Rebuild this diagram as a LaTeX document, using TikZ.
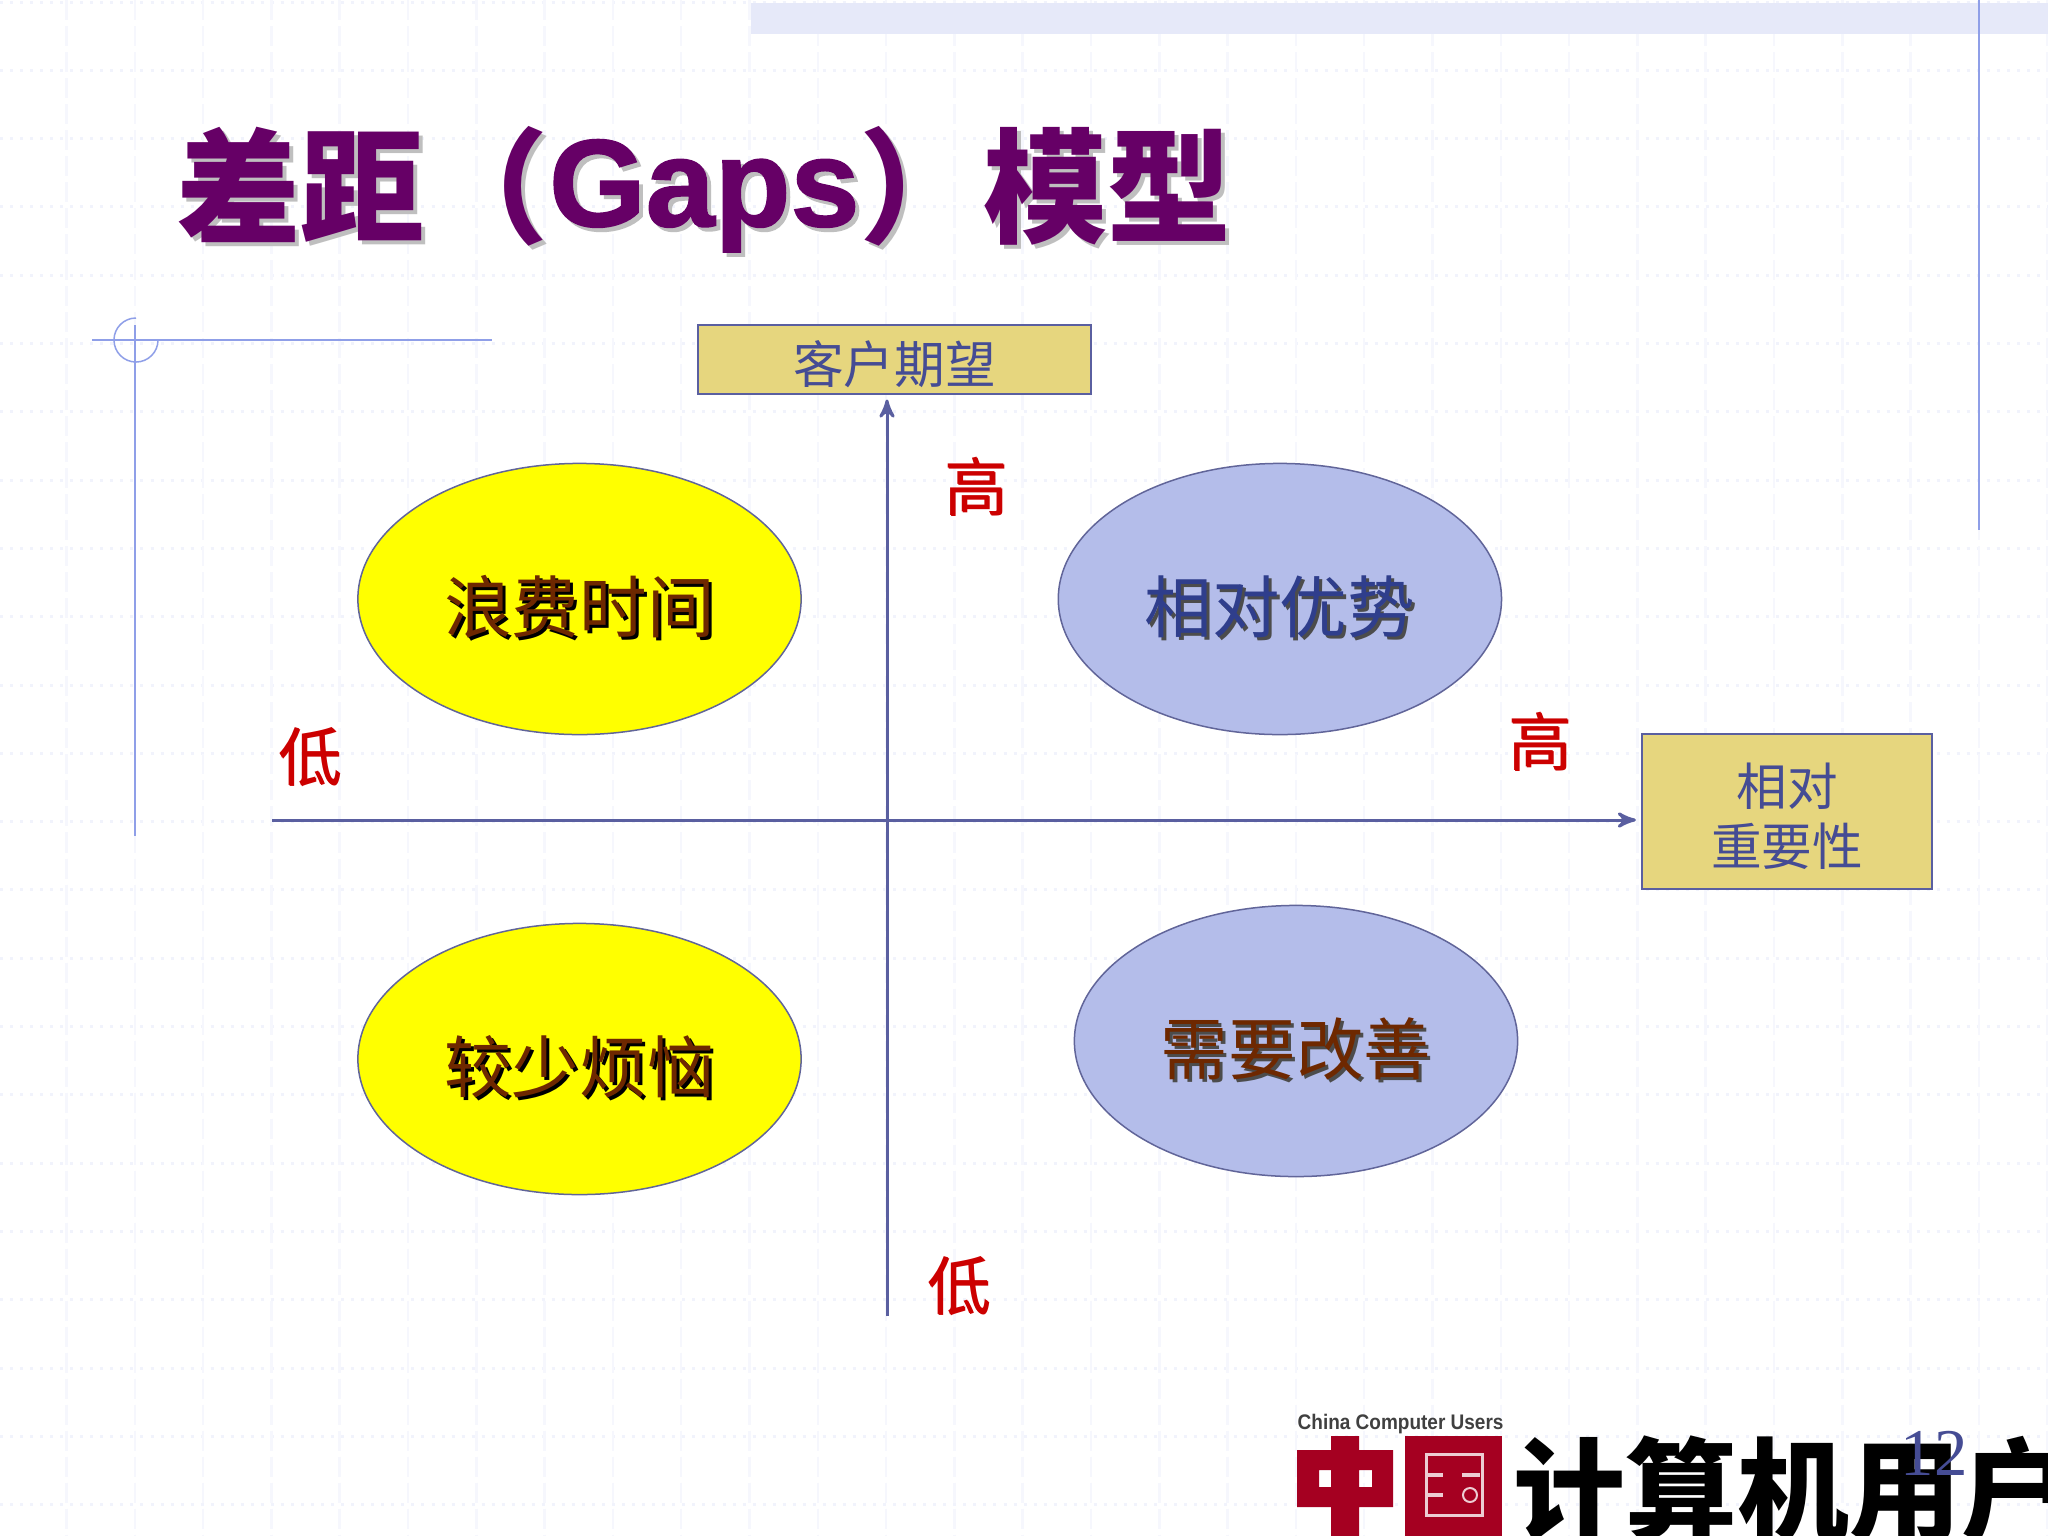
\documentclass[tikz,border=0pt]{standalone}
\usepackage{fontspec}
\setmainfont{Noto Sans CJK SC}
\newfontfamily\latinfont[BoldFeatures={FakeBold=1.3}]{Liberation Sans}
\newfontfamily\logofont{Liberation Sans}
\newfontfamily\numfont{Liberation Serif}
\usetikzlibrary{arrows,shapes.geometric}

\definecolor{gridc}{HTML}{F1F3FC}
\definecolor{gridvc}{HTML}{F6F7FD}
\definecolor{bandc}{HTML}{E6E9F9}
\definecolor{rulec}{HTML}{8F9FE8}
\definecolor{axisc}{HTML}{5A5FA0}
\definecolor{boxc}{HTML}{E6D67E}
\definecolor{ovalc}{HTML}{B4BDEA}
\definecolor{ovaly}{HTML}{FFFF00}
\definecolor{titlec}{HTML}{660066}
\definecolor{maroonc}{HTML}{6E2800}
\definecolor{navyc}{HTML}{2F3E8C}
\definecolor{boxtextc}{HTML}{454C94}
\definecolor{levelc}{HTML}{CC0000}
\definecolor{logoc}{HTML}{A50021}

\newcommand{\shadowed}[3]{\leavevmode\rlap{\kern#1\raisebox{-#1}{\color{#2}#3}}#3}
\newcommand{\ovaltext}[2]{\raisebox{-.33cm}[0pt][0pt]{\shadowed{.03cm}{#1}{#2}}}
\newcommand{\leveltext}[1]{\shadowed{.015cm}{levelc}{#1}}

\tikzset{
  oval/.style={ellipse,draw=axisc!80!gray,line width=.15mm,minimum width=4.43cm,minimum height=2.71cm,inner sep=0pt,font=\fontsize{19.2}{22}\selectfont},
  yellowoval/.style={oval,fill=ovaly,text=maroonc},
  blueoval/.style={oval,fill=ovalc},
  axisbox/.style={rectangle,draw=axisc,line width=.2mm,fill=boxc,inner sep=0pt},
  boxtext/.style={text=boxtextc,inner sep=0pt,align=center,yshift=-.05cm,font=\fontsize{14.4}{17}\selectfont},
  levellabel/.style={text=levelc,inner sep=0pt,font=\fontsize{18}{20}\selectfont},
  axisline/.style={->,draw=axisc,line width=.3mm,shorten >=.5mm},
}

\begin{document}
\begin{tikzpicture}[x=.01cm,y=-.01cm,>=stealth',node distance=7cm]
\useasboundingbox (0,0) rectangle (2048,1536);
\fill[white] (0,0) rectangle (2048,1536);

\foreach \i in {0,...,22}
  \draw[gridc,line width=.3mm,dotted] (0,2+68.3*\i) -- (2048,2+68.3*\i);
\foreach \i in {0,...,29}
  \draw[gridvc,line width=.25mm,dash pattern=on 2mm off .6mm] (66.5+68.3*\i,0) -- (66.5+68.3*\i,1536);

\fill[bandc] (751,3) rectangle (2048,34);
\draw[rulec,line width=.25mm] (1979,0) -- (1979,530);
\draw[rulec,line width=.25mm] (92,340) -- (492,340);
\draw[rulec,line width=.25mm] (135,325) -- (135,836);
\draw[rulec,line width=.15mm] (136,318) arc[start angle=90,end angle=360,radius=.22cm];

\node[anchor=west,inner sep=0pt,text=titlec,font=\fontsize{35.3}{40}\selectfont\bfseries] (title) at (176,191)
  {\shadowed{.04cm}{black!25}{差距（\raisebox{.07cm}{\latinfont Gaps}）模型}};

\node[axisbox,minimum width=3.93cm,minimum height=.68cm,label={[boxtext]center:客户期望}] (expect) at (894.5,359.5) {};
\node[axisbox,minimum width=2.9cm,minimum height=1.55cm,label={[boxtext]center:相对\\重要性}] (weight) at (1787,811.5) {};

\node[yellowoval] (waste) at (579.5,599) {\ovaltext{black}{浪费时间}};
\node[blueoval,text=navyc] (edge)[right of=waste] {\ovaltext{black!70}{相对优势}};
\node[yellowoval] (worry) at (579.5,1059) {\ovaltext{black}{较少烦恼}};
\node[blueoval,text=maroonc] (improve) at (1296,1041) {\ovaltext{black!70}{需要改善}};

\coordinate (vlow) at (887,1316);
\coordinate (hlow) at (272,820);
\draw[axisline] (vlow) -- (vlow |- expect.south);
\draw[axisline] (hlow) -- (hlow -| weight.west);

\node[levellabel] (vhigh) at (976,487) {\leveltext{高}};
\node[levellabel] (vlowtext) at (959,1286) {\leveltext{低}};
\node[levellabel] (hhigh) at (1540,742) {\leveltext{高}};
\node[levellabel] (hlowtext) at (310,757) {\leveltext{低}};

\node[anchor=west,inner sep=0pt,font=\fontsize{6}{8}\selectfont\logofont\bfseries,text=black!75] (logoname) at (1297,1424) {\scalebox{.9}[1]{China Computer Users}};
\fill[logoc,even odd rule]
  (1331,1436) -- (1359,1436) -- (1359,1450) -- (1393,1450) -- (1393,1507) -- (1359,1507) -- (1359,1536) -- (1331,1536) -- (1331,1507) -- (1297,1507) -- (1297,1450) -- (1331,1450) -- cycle
  (1319,1470) rectangle (1331,1487)
  (1359,1470) rectangle (1372,1487);
\fill[logoc] (1405,1436) rectangle (1502,1536);
\draw[white!80!logoc,line width=.3mm] (1426,1454) rectangle (1482,1515);
\draw[white!80!logoc,line width=.35mm] (1428,1475) -- (1443,1475) (1462,1475) -- (1480,1475) (1428,1495) -- (1443,1495);
\draw[white!80!logoc,line width=.2mm] (1470,1495) circle[radius=.07cm];
\node[anchor=west,inner sep=0pt,font=\fontsize{31.8}{36}\selectfont\bfseries] (logotext) at (1513,1490) {计算机用户};

\node[text=boxtextc,inner sep=0pt,font=\fontsize{19}{22}\selectfont\numfont] (page) at (1934,1453) {12};
\end{tikzpicture}
\end{document}
